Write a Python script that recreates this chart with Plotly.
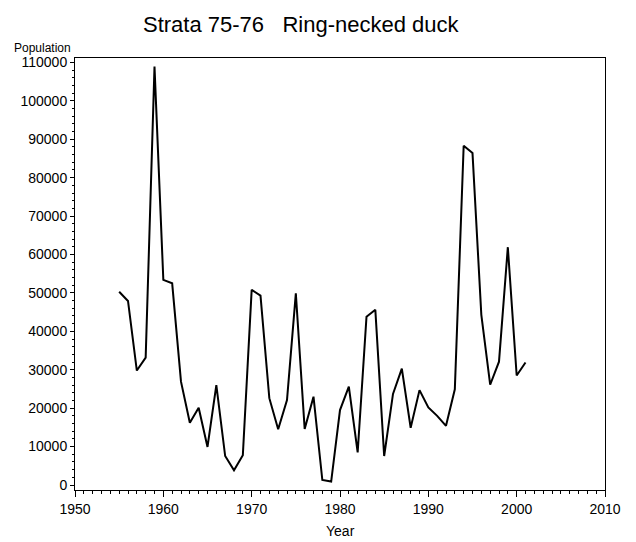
import plotly.graph_objects as go

years = list(range(1955, 2002))
population = [
    50300, 47900, 29800, 33150, 108900, 53400, 52500, 26900, 16200, 20100,
    9900, 26000, 7550, 3850, 7750, 50800, 49300, 22600, 14500, 22100,
    49900, 14600, 23000, 1300, 900, 19500, 25600, 8500, 43800, 45600,
    7550, 23700, 30300, 14900, 24700, 20200, 18000, 15400, 24900, 88300,
    86400, 44300, 26100, 32100, 61900, 28500, 31900,
]

title_text = "Strata 75-76\u00a0\u00a0\u00a0Ring-necked duck"
y_label = "Population"
x_label = "Year"

FONT = "Liberation Sans, Arial, sans-serif"

fig = go.Figure()
fig.add_trace(go.Scatter(
    x=years, y=population, mode="lines",
    line=dict(color="black", width=2),
    showlegend=False, hoverinfo="skip",
))

fig.update_layout(
    width=636, height=542,
    margin=dict(l=75, r=31, t=58, b=52, autoexpand=False),
    plot_bgcolor="white", paper_bgcolor="white",
    font=dict(family=FONT, color="black", size=14),
)

fig.update_xaxes(
    range=[1950, 2010], tick0=1950, dtick=10, automargin=False,
    showgrid=False, zeroline=False,
    showline=True, linecolor="black", linewidth=1, mirror=True,
    ticks="outside", ticklen=6, tickcolor="black", tickwidth=1,
    minor=dict(dtick=1, ticks="outside", ticklen=3, tickcolor="black", showgrid=False),
    tickfont=dict(size=14, family=FONT, color="black"),
)
fig.update_yaxes(
    range=[-1300, 111150], tick0=0, dtick=10000, automargin=False,
    tickformat="d",
    showgrid=False, zeroline=False,
    showline=True, linecolor="black", linewidth=1, mirror=True,
    ticks="outside", ticklen=4, tickcolor="black", tickwidth=1,
    minor=dict(dtick=2000, ticks="outside", ticklen=2, tickcolor="black", showgrid=False),
    tickfont=dict(size=14, family=FONT, color="black"),
)

fig.add_annotation(
    text=title_text, xref="paper", yref="paper",
    x=0.428, y=1.0787, xanchor="center", yanchor="middle",
    showarrow=False, font=dict(size=22, family=FONT, color="black"),
)
fig.add_annotation(
    text=y_label, xref="paper", yref="paper",
    x=-0.0613, y=1.023, xanchor="center", yanchor="middle",
    showarrow=False, font=dict(size=12, family=FONT, color="black"),
)
fig.add_annotation(
    text=x_label, xref="paper", yref="paper",
    x=0.5, y=-0.0949, xanchor="center", yanchor="middle",
    showarrow=False, font=dict(size=14, family=FONT, color="black"),
)

fig.write_html(
    "out.html",
    config={"displayModeBar": False, "staticPlot": True},
    post_script="document.body.style.margin='0';document.body.style.overflow='hidden';",
)
